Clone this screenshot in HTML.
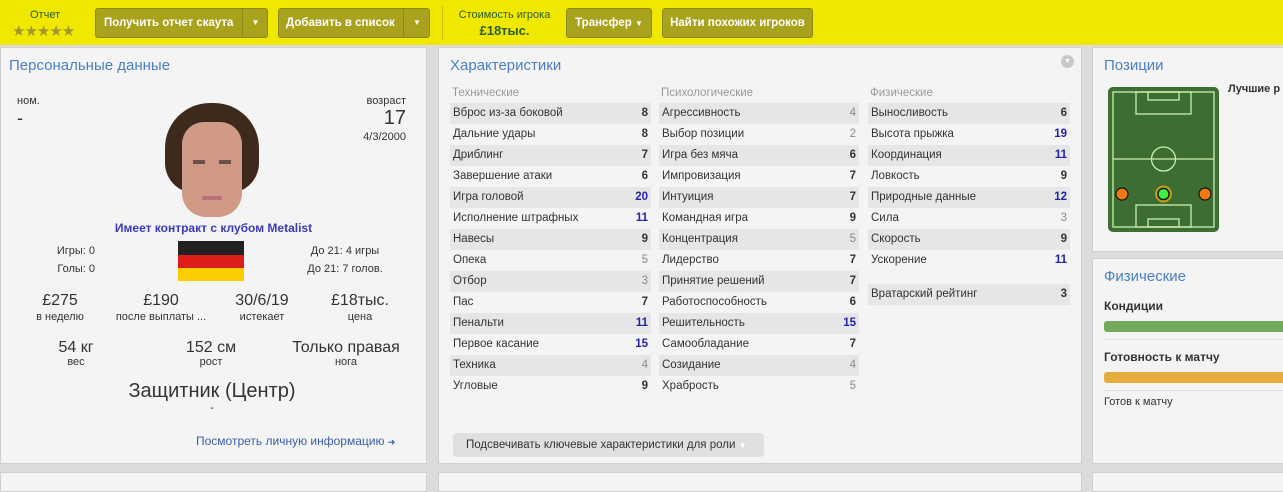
<!DOCTYPE html>
<html><head><meta charset="utf-8"><style>
*{box-sizing:border-box;margin:0;padding:0}
body{width:1283px;height:482px;overflow:hidden;background:#dcdcdc;font-family:"Liberation Sans",sans-serif;font-size:12px;color:#333;position:relative}
.a{position:absolute}
.top{left:0;top:0;width:1283px;height:45px;background:#f0e800}
.btn{position:absolute;top:8px;height:30px;background:#a8a21c;border:1px solid #8d8812;border-radius:3px;color:#fff;font-size:11.5px;font-weight:bold;line-height:28px;text-align:center}
.panel{position:absolute;background:#f4f4f4;border:1px solid #d0d0d0}
.h{position:absolute;color:#4a7fc1;font-size:15px}
.row{position:absolute;height:21px;line-height:21px;font-size:11.5px;padding-left:3px}
.row.s{background:#e6e6e6}
.row b{position:absolute;right:3px;font-weight:bold}
.lo{color:#888!important;font-weight:normal!important}
.hi{color:#2323a8!important}
.sub{position:absolute;color:#999;font-size:11.5px}
.c{position:absolute;text-align:center}
</style></head><body>
<div class="a top"></div>
<div class="a" style="left:30px;top:9px;color:#2a5d2a;font-size:11px">Отчет</div>
<div class="a" style="left:12px;top:22px;color:#a09530;font-size:15px;letter-spacing:-1px">★★★★★</div>
<div class="btn" style="left:95px;width:173px;text-align:left;padding-left:8px">Получить отчет скаута<span style="position:absolute;left:146px;top:0;width:26px;height:28px;border-left:1px solid #8d8812;text-align:center;font-size:8px">▼</span></div>
<div class="btn" style="left:278px;width:152px;text-align:left;padding-left:7px">Добавить в список<span style="position:absolute;left:124px;top:0;width:27px;height:28px;border-left:1px solid #8d8812;text-align:center;font-size:8px">▼</span></div>
<div class="a" style="left:442px;top:6px;width:1px;height:34px;background:#c8c000"></div>
<div class="a" style="left:452px;top:9px;width:105px;text-align:center;color:#2a5d2a;font-size:11px">Стоимость игрока</div>
<div class="a" style="left:452px;top:23px;width:105px;text-align:center;color:#2a5d2a;font-size:13px;font-weight:bold">£18тыс.</div>
<div class="btn" style="left:566px;width:86px">Трансфер <span style="font-size:8px">▼</span></div>
<div class="btn" style="left:662px;width:151px">Найти похожих игроков</div>

<div class="panel" style="left:0;top:47px;width:427px;height:417px"></div>
<div class="h" style="left:9px;top:57px">Персональные данные</div>
<div class="a" style="left:17px;top:95px;font-size:11px">ном.</div>
<div class="a" style="left:17px;top:108px;font-size:18px">-</div>
<div class="a" style="left:340px;top:95px;width:66px;text-align:right;font-size:11px">возраст</div>
<div class="a" style="left:340px;top:107px;width:66px;text-align:right;font-size:20px">17</div>
<div class="a" style="left:330px;top:131px;width:76px;text-align:right;font-size:11px">4/3/2000</div>
<div class="a" style="left:165px;top:103px;width:94px;height:90px;border-radius:45px 45px 30px 30px;background:#3e2a1c"></div>
<div class="a" style="left:182px;top:122px;width:60px;height:95px;border-radius:22px 22px 24px 24px;background:#d09a86"></div>
<div class="a" style="left:193px;top:160px;width:12px;height:4px;background:#6a5048"></div>
<div class="a" style="left:219px;top:160px;width:12px;height:4px;background:#6a5048"></div>
<div class="a" style="left:202px;top:196px;width:20px;height:4px;border-radius:2px;background:#b8707a"></div>
<div class="c" style="left:0;top:221px;width:427px;color:#3a3ab8;font-weight:bold;font-size:12px">Имеет контракт с клубом Metalist</div>
<div class="a" style="left:40px;top:245px;width:55px;text-align:right;font-size:11px">Игры: 0</div>
<div class="a" style="left:40px;top:263px;width:55px;text-align:right;font-size:11px">Голы: 0</div>
<div class="a" style="left:178px;top:241px;width:66px;height:14px;background:#222"></div>
<div class="a" style="left:178px;top:255px;width:66px;height:13px;background:#dd1c1c"></div>
<div class="a" style="left:178px;top:268px;width:66px;height:13px;background:#fdcd00"></div>
<div class="c" style="left:290px;top:245px;width:110px;font-size:11px">До 21: 4 игры</div>
<div class="c" style="left:290px;top:263px;width:110px;font-size:11px">До 21: 7 голов.</div>
<div class="c" style="left:20px;top:292px;width:80px;font-size:16px">£275</div>
<div class="c" style="left:20px;top:311px;width:80px;font-size:11px">в неделю</div>
<div class="c" style="left:110px;top:292px;width:102px;font-size:16px">£190</div>
<div class="c" style="left:110px;top:311px;width:102px;font-size:11px">после выплаты ...</div>
<div class="c" style="left:222px;top:292px;width:80px;font-size:16px">30/6/19</div>
<div class="c" style="left:222px;top:311px;width:80px;font-size:11px">истекает</div>
<div class="c" style="left:320px;top:292px;width:80px;font-size:16px">£18тыс.</div>
<div class="c" style="left:320px;top:311px;width:80px;font-size:11px">цена</div>
<div class="c" style="left:36px;top:339px;width:80px;font-size:16px">54 кг</div>
<div class="c" style="left:36px;top:356px;width:80px;font-size:11px">вес</div>
<div class="c" style="left:170px;top:339px;width:82px;font-size:16px">152 см</div>
<div class="c" style="left:170px;top:356px;width:82px;font-size:11px">рост</div>
<div class="c" style="left:286px;top:339px;width:120px;font-size:16px">Только правая</div>
<div class="c" style="left:286px;top:356px;width:120px;font-size:11px">нога</div>
<div class="c" style="left:0;top:380px;width:424px;font-size:20px">Защитник (Центр)</div>
<div class="c" style="left:0;top:402px;width:424px;font-size:11px">-</div>
<div class="a" style="left:196px;top:434px;color:#3a5ea8;font-size:12px">Посмотреть личную информацию <span style="font-size:9px">➜</span></div>

<div class="panel" style="left:438px;top:47px;width:644px;height:417px"></div>
<div class="h" style="left:450px;top:57px">Характеристики</div>
<div class="a" style="left:1061px;top:55px;width:13px;height:13px;border-radius:50%;background:#c8c8c8;color:#fff;font-size:7px;text-align:center;line-height:13px">▼</div>
<div class="sub" style="left:452px;top:87px">Технические</div>
<div class="sub" style="left:661px;top:87px">Психологические</div>
<div class="sub" style="left:870px;top:87px">Физические</div>
<div id="rows"></div>
<div class="a" style="left:453px;top:433px;width:311px;height:24px;border-radius:4px;background:#e0e0e0;line-height:24px;padding-left:13px;font-size:11.5px">Подсвечивать ключевые характеристики для роли <span style="color:#fff;font-size:8px">▼</span></div>

<div class="panel" style="left:1092px;top:47px;width:200px;height:205px"></div>
<div class="h" style="left:1104px;top:57px">Позиции</div>
<div class="a" style="left:1228px;top:83px;font-weight:bold;font-size:11px">Лучшие р</div>
<svg class="a" style="left:1108px;top:87px" width="111" height="145"><rect width="111" height="145" rx="5" fill="#3b6e30"/><g fill="none" stroke="#cfeeb4" stroke-width="1.3"><rect x="5" y="5" width="101" height="135"/><line x1="5" y1="72" x2="106" y2="72"/><circle cx="55.5" cy="72" r="12"/><rect x="28" y="5" width="55" height="22"/><rect x="40" y="5" width="31" height="8"/><rect x="28" y="118" width="55" height="22"/><rect x="40" y="132" width="31" height="8"/></g><circle cx="14" cy="107" r="6" fill="#f07a10" stroke="#111" stroke-width="1.2"/><circle cx="97" cy="107" r="6" fill="#f07a10" stroke="#111" stroke-width="1.2"/><circle cx="55.5" cy="107" r="7.5" fill="none" stroke="#c89a10" stroke-width="2"/><circle cx="55.5" cy="107" r="5.5" fill="#40f040" stroke="#111" stroke-width="1.2"/></svg>
<div class="panel" style="left:1092px;top:258px;width:200px;height:206px"></div>
<div class="h" style="left:1104px;top:268px">Физические</div>
<div class="a" style="left:1104px;top:299px;font-weight:bold;font-size:12px">Кондиции</div>
<div class="a" style="left:1104px;top:321px;width:190px;height:11px;background:#72a95a;border-radius:3px 0 0 3px"></div>
<div class="a" style="left:1104px;top:339px;width:190px;height:1px;background:#ddd"></div>
<div class="a" style="left:1104px;top:350px;font-weight:bold;font-size:12px">Готовность к матчу</div>
<div class="a" style="left:1104px;top:372px;width:190px;height:11px;background:#e7ac3e;border-radius:3px 0 0 3px"></div>
<div class="a" style="left:1104px;top:390px;width:190px;height:1px;background:#ddd"></div>
<div class="a" style="left:1104px;top:396px;font-size:11px">Готов к матчу</div>

<div class="panel" style="left:0;top:472px;width:427px;height:20px"></div>
<div class="panel" style="left:438px;top:472px;width:644px;height:20px"></div>
<div class="panel" style="left:1092px;top:472px;width:200px;height:20px"></div>
<script>
var T=[["Вброс из-за боковой",8],["Дальние удары",8],["Дриблинг",7],["Завершение атаки",6],["Игра головой",20],["Исполнение штрафных",11],["Навесы",9],["Опека",5],["Отбор",3],["Пас",7],["Пенальти",11],["Первое касание",15],["Техника",4],["Угловые",9]];
var P=[["Агрессивность",4],["Выбор позиции",2],["Игра без мяча",6],["Импровизация",7],["Интуиция",7],["Командная игра",9],["Концентрация",5],["Лидерство",7],["Принятие решений",7],["Работоспособность",6],["Решительность",15],["Самообладание",7],["Созидание",4],["Храбрость",5]];
var F=[["Выносливость",6],["Высота прыжка",19],["Координация",11],["Ловкость",9],["Природные данные",12],["Сила",3],["Скорость",9],["Ускорение",11]];
var h="";
function col(arr,x,w,y0){arr.forEach(function(r,i){var cl=r[1]<=5?"lo":(r[1]>=10?"hi":"");h+='<div class="row'+(i%2==0?' s':'')+'" style="left:'+x+'px;top:'+(y0+i*21)+'px;width:'+w+'px">'+r[0]+'<b class="'+cl+'">'+r[1]+'</b></div>';});}
col(T,450,201,103);col(P,659,200,103);col(F,868,202,103);
h+='<div class="row s" style="left:868px;top:284px;width:202px">Вратарский рейтинг<b>3</b></div>';
document.getElementById("rows").innerHTML=h;
</script>
</body></html>
